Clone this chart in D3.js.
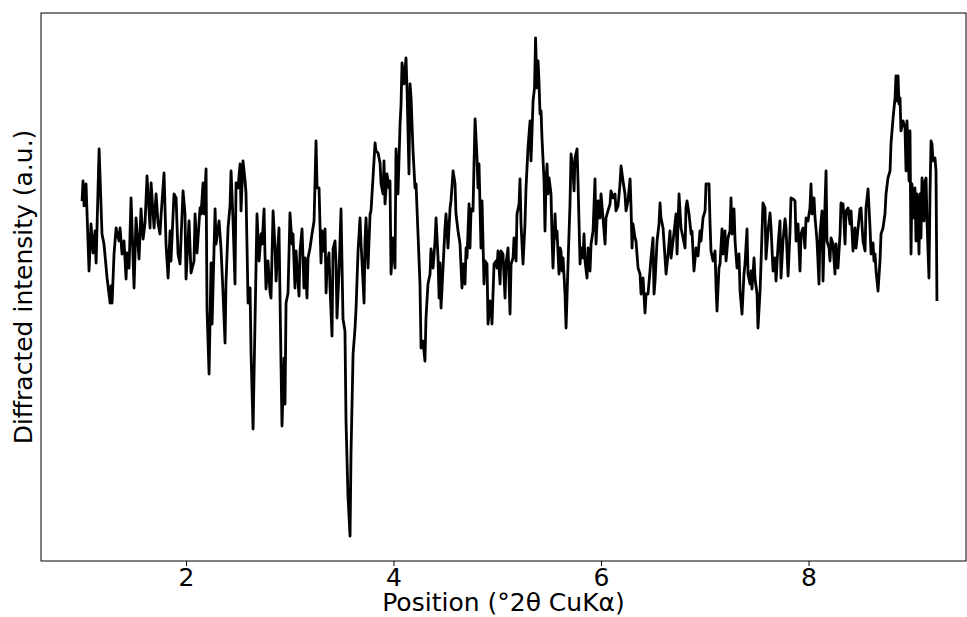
<!DOCTYPE html>
<html>
<head>
<meta charset="utf-8">
<script src="https://cdn.jsdelivr.net/npm/d3@7"></script>
<style>
  html, body { margin: 0; padding: 0; background: #fff; }
  svg text { font-family: "DejaVu Sans", sans-serif; }
</style>
</head>
<body>
<div id="chart"></div>
<script>
// scan position, °2θ
const positions = [
  0.998, 1.007, 1.017, 1.036, 1.065, 1.084, 1.104, 1.123, 1.133, 1.162, 1.190, 1.209, 1.239, 1.268, 1.277, 1.287,
  1.306, 1.326, 1.354, 1.364, 1.383, 1.402, 1.422, 1.431, 1.451, 1.470, 1.499, 1.518, 1.547, 1.566, 1.586, 1.605,
  1.624, 1.653, 1.663, 1.692, 1.711, 1.730, 1.749, 1.759, 1.788, 1.807, 1.827, 1.846, 1.855, 1.884, 1.904, 1.923,
  1.942, 1.971, 1.990, 2.000, 2.029, 2.048, 2.077, 2.087, 2.106, 2.135, 2.145, 2.164, 2.173, 2.193, 2.202, 2.222,
  2.241, 2.251, 2.280, 2.289, 2.318, 2.337, 2.357, 2.376, 2.385, 2.405, 2.424, 2.434, 2.453, 2.472, 2.482, 2.501,
  2.521, 2.530, 2.549, 2.569, 2.578, 2.598, 2.617, 2.627, 2.646, 2.665, 2.684, 2.704, 2.723, 2.733, 2.752, 2.761,
  2.771, 2.790, 2.810, 2.819, 2.839, 2.858, 2.868, 2.896, 2.916, 2.925, 2.945, 2.954, 2.964, 2.983, 3.002, 3.022,
  3.031, 3.050, 3.060, 3.089, 3.099, 3.118, 3.137, 3.147, 3.166, 3.176, 3.195, 3.214, 3.234, 3.253, 3.263, 3.282,
  3.301, 3.311, 3.321, 3.340, 3.350, 3.359, 3.378, 3.388, 3.407, 3.417, 3.436, 3.446, 3.455, 3.475, 3.494, 3.513,
  3.532, 3.542, 3.561, 3.581, 3.590, 3.610, 3.629, 3.639, 3.658, 3.677, 3.687, 3.696, 3.716, 3.725, 3.735, 3.754,
  3.774, 3.783, 3.802, 3.822, 3.831, 3.851, 3.870, 3.880, 3.899, 3.908, 3.918, 3.937, 3.957, 3.966, 3.976, 3.995,
  4.014, 4.024, 4.043, 4.063, 4.072, 4.082, 4.101, 4.111, 4.120, 4.130, 4.149, 4.159, 4.169, 4.188, 4.207, 4.217,
  4.236, 4.255, 4.265, 4.284, 4.303, 4.313, 4.332, 4.352, 4.361, 4.381, 4.400, 4.410, 4.429, 4.439, 4.448, 4.458,
  4.477, 4.496, 4.506, 4.525, 4.545, 4.554, 4.574, 4.593, 4.602, 4.622, 4.641, 4.651, 4.660, 4.670, 4.689, 4.699,
  4.708, 4.728, 4.737, 4.747, 4.766, 4.776, 4.786, 4.805, 4.814, 4.824, 4.843, 4.853, 4.872, 4.882, 4.901, 4.911,
  4.930, 4.940, 4.949, 4.969, 4.988, 4.998, 5.007, 5.027, 5.036, 5.055, 5.075, 5.084, 5.104, 5.123, 5.133, 5.152,
  5.161, 5.181, 5.190, 5.210, 5.219, 5.229, 5.248, 5.267, 5.277, 5.296, 5.316, 5.325, 5.345, 5.359, 5.369, 5.383,
  5.393, 5.402, 5.412, 5.422, 5.431, 5.451, 5.460, 5.470, 5.480, 5.489, 5.499, 5.518, 5.528, 5.537, 5.557, 5.566,
  5.576, 5.595, 5.605, 5.614, 5.624, 5.634, 5.653, 5.663, 5.682, 5.701, 5.711, 5.730, 5.740, 5.749, 5.769, 5.778,
  5.798, 5.807, 5.826, 5.836, 5.846, 5.865, 5.875, 5.894, 5.904, 5.923, 5.942, 5.952, 5.971, 5.990, 6.000, 6.019,
  6.039, 6.048, 6.067, 6.087, 6.096, 6.116, 6.135, 6.144, 6.164, 6.183, 6.193, 6.212, 6.231, 6.241, 6.260, 6.280,
  6.289, 6.299, 6.308, 6.328, 6.337, 6.357, 6.376, 6.386, 6.405, 6.424, 6.434, 6.453, 6.472, 6.482, 6.501, 6.511,
  6.521, 6.540, 6.559, 6.569, 6.578, 6.598, 6.617, 6.627, 6.646, 6.665, 6.675, 6.694, 6.713, 6.723, 6.733, 6.752,
  6.771, 6.791, 6.810, 6.819, 6.829, 6.848, 6.868, 6.877, 6.896, 6.916, 6.935, 6.954, 6.964, 6.983, 7.003, 7.012,
  7.041, 7.051, 7.060, 7.080, 7.099, 7.109, 7.118, 7.137, 7.147, 7.166, 7.176, 7.195, 7.205, 7.224, 7.243, 7.253,
  7.263, 7.282, 7.292, 7.311, 7.330, 7.340, 7.359, 7.378, 7.388, 7.407, 7.417, 7.436, 7.446, 7.455, 7.475, 7.484,
  7.504, 7.513, 7.533, 7.542, 7.561, 7.581, 7.590, 7.610, 7.629, 7.639, 7.658, 7.677, 7.687, 7.706, 7.725, 7.735,
  7.754, 7.774, 7.783, 7.803, 7.822, 7.831, 7.851, 7.870, 7.880, 7.899, 7.918, 7.928, 7.947, 7.966, 7.976, 7.995,
  8.014, 8.024, 8.034, 8.053, 8.063, 8.082, 8.101, 8.111, 8.130, 8.140, 8.159, 8.169, 8.178, 8.198, 8.207, 8.217,
  8.236, 8.255, 8.265, 8.284, 8.304, 8.313, 8.333, 8.352, 8.362, 8.381, 8.400, 8.410, 8.429, 8.448, 8.458, 8.477,
  8.496, 8.506, 8.525, 8.545, 8.554, 8.574, 8.593, 8.603, 8.622, 8.631, 8.641, 8.651, 8.670, 8.689, 8.699, 8.718,
  8.737, 8.747, 8.766, 8.786, 8.795, 8.815, 8.834, 8.843, 8.853, 8.863, 8.872, 8.882, 8.891, 8.911, 8.930, 8.940,
  8.949, 8.959, 8.969, 8.978, 8.988, 8.997, 9.017, 9.026, 9.036, 9.046, 9.055, 9.065, 9.075, 9.084, 9.094, 9.113,
  9.123, 9.133, 9.142, 9.161, 9.171, 9.181, 9.190, 9.200, 9.219, 9.229, 9.238
]

// diffracted intensity, arbitrary units
const intensity = [
  361, 381, 356, 378, 291, 338, 309, 331, 299, 413, 328, 318, 284, 259, 276, 259,
  308, 334, 321, 334, 308, 321, 283, 309, 294, 364, 274, 344, 303, 353, 323, 339,
  386, 334, 379, 334, 368, 339, 328, 346, 389, 318, 284, 331, 301, 368, 364, 308,
  298, 371, 348, 283, 341, 289, 301, 348, 309, 354, 348, 379, 348, 393, 254, 188,
  299, 238, 353, 318, 341, 314, 268, 219, 279, 334, 356, 391, 341, 278, 379, 374,
  398, 351, 401, 381, 369, 259, 274, 208, 133, 241, 348, 301, 328, 318, 353, 308,
  273, 301, 269, 264, 351, 314, 281, 334, 194, 136, 204, 158, 259, 269, 349, 318,
  328, 274, 311, 266, 311, 333, 274, 304, 264, 304, 314, 328, 341, 421, 374, 374,
  299, 331, 311, 333, 269, 294, 309, 274, 226, 313, 321, 298, 244, 291, 353, 243,
  231, 141, 66, 26, 108, 208, 234, 254, 311, 344, 318, 301, 259, 321, 344, 294,
  348, 351, 384, 419, 411, 409, 399, 378, 368, 401, 358, 388, 374, 381, 288, 324,
  294, 413, 368, 438, 456, 499, 478, 491, 504, 474, 388, 478, 464, 411, 374, 378,
  328, 278, 214, 221, 201, 244, 278, 288, 313, 294, 321, 344, 304, 264, 299, 254,
  294, 334, 348, 314, 354, 361, 391, 378, 348, 331, 318, 294, 274, 298, 278, 314,
  304, 358, 314, 353, 351, 398, 443, 404, 374, 398, 314, 361, 278, 301, 298, 238,
  261, 254, 238, 298, 301, 294, 311, 278, 311, 308, 264, 298, 314, 248, 298, 304,
  324, 301, 348, 358, 383, 338, 298, 338, 374, 414, 441, 401, 461, 474, 524, 474,
  501, 481, 448, 451, 424, 381, 331, 381, 398, 368, 384, 368, 324, 294, 348, 324,
  331, 288, 314, 311, 291, 304, 268, 234, 298, 358, 408, 391, 371, 404, 413, 381,
  298, 314, 304, 328, 301, 284, 314, 291, 318, 331, 383, 318, 361, 344, 368, 344,
  318, 344, 351, 358, 371, 364, 368, 351, 356, 378, 396, 381, 368, 351, 361, 383,
  356, 314, 338, 324, 321, 294, 288, 268, 284, 249, 268, 268, 291, 304, 324, 268,
  281, 321, 338, 359, 344, 334, 304, 288, 308, 331, 304, 321, 338, 348, 308, 368,
  334, 324, 314, 354, 361, 348, 328, 331, 291, 314, 306, 331, 321, 344, 351, 378,
  378, 338, 311, 301, 311, 274, 251, 294, 298, 333, 308, 331, 301, 324, 331, 364,
  328, 353, 321, 294, 308, 271, 248, 288, 298, 333, 288, 278, 291, 273, 304, 284,
  268, 234, 271, 298, 359, 354, 303, 331, 349, 334, 291, 304, 281, 316, 341, 284,
  321, 343, 334, 286, 331, 364, 363, 361, 321, 338, 291, 328, 334, 314, 344, 341,
  354, 378, 348, 364, 344, 321, 278, 328, 351, 281, 358, 391, 321, 314, 301, 324,
  318, 288, 318, 294, 328, 359, 358, 318, 351, 354, 338, 351, 311, 334, 314, 333,
  353, 354, 321, 311, 354, 373, 334, 308, 319, 301, 308, 291, 271, 301, 328, 334,
  348, 368, 384, 391, 418, 444, 464, 486, 461, 486, 458, 464, 431, 441, 434, 391,
  441, 418, 381, 431, 308, 378, 344, 374, 321, 368, 344, 308, 368, 324, 384, 341,
  381, 384, 341, 284, 368, 421, 418, 401, 404, 391, 261
]

const xTicks = [2, 4, 6, 8]
const xLabel = 'Position (°2θ CuKα)'
const yLabel = 'Diffracted intensity (a.u.)'

const width = 967
const height = 617
const margin = { top: 13, right: 1, bottom: 56, left: 41 }
const fontSize = '25px'

const points = positions.map((p, i) => ({ x: p, y: intensity[i] }))

const svg = d3.select('#chart').append('svg')
  .attr('width', width)
  .attr('height', height)

// x limits as in the source figure
const x = d3.scaleLinear()
  .domain([0.602, 9.518])
  .range([margin.left, width - margin.right])

// y limits: data extent plus 5% padding
const yExt = d3.extent(intensity)
const pad = (yExt[1] - yExt[0]) * 0.05
const y = d3.scaleLinear()
  .domain([yExt[0] - pad, yExt[1] + pad])
  .range([height - margin.bottom, margin.top])

// the pattern
const line = d3.line()
  .x(d => x(d.x))
  .y(d => y(d.y))

svg.append('path')
  .datum(points)
  .attr('d', line)
  .attr('fill', 'none')
  .attr('stroke', '#000')
  .attr('stroke-width', 2.8)
  .attr('stroke-linejoin', 'round')

// bottom axis
const xAxis = d3.axisBottom(x)
  .tickValues(xTicks)
  .tickFormat(d3.format('d'))
  .tickSize(5)
  .tickPadding(2)

const gx = svg.append('g')
  .attr('transform', 'translate(0,' + (height - margin.bottom) + ')')
  .call(xAxis)
gx.select('.domain').remove()
gx.selectAll('.tick line').attr('stroke', '#000').attr('stroke-width', 1)
gx.selectAll('.tick text')
  .attr('fill', '#000')
  .style('font-size', fontSize)
  .style('font-family', '"DejaVu Sans", sans-serif')

// frame
svg.append('rect')
  .attr('x', margin.left)
  .attr('y', margin.top)
  .attr('width', width - margin.left - margin.right)
  .attr('height', height - margin.top - margin.bottom)
  .attr('fill', 'none')
  .attr('stroke', '#000')
  .attr('stroke-width', 1)

// axis titles
svg.append('text')
  .attr('x', (margin.left + width - margin.right) / 2)
  .attr('y', 611)
  .attr('text-anchor', 'middle')
  .style('font-size', fontSize)
  .text(xLabel)

svg.append('text')
  .attr('transform', 'translate(32,' + ((margin.top + height - margin.bottom) / 2) + ') rotate(-90)')
  .attr('text-anchor', 'middle')
  .style('font-size', fontSize)
  .text(yLabel)
</script>
</body>
</html>
